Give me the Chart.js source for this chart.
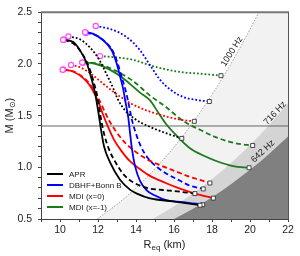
<!DOCTYPE html>
<html>
<head>
<meta charset="utf-8">
<script src="https://cdn.jsdelivr.net/npm/chart.js@4.4.0/dist/chart.umd.min.js"></script>
<style>
html, body { margin: 0; padding: 0; background: #fff; }
#chart { display: block; }
</style>
</head>
<body>
<canvas id="chart" width="300" height="256"></canvas>
<script>
// Mass - equatorial radius sequences, [R_eq (km), M (Msun)]
// first point = maximum mass, last point = mass-shedding limit
const apr642 = [[10.17,2.235],[10.70,2.213],[11.05,2.133],[11.41,2.007],[11.67,1.849],[11.84,1.723],[12.02,1.533],[12.16,1.363],[12.32,1.201],[12.63,1.050],[13.16,0.879],[13.68,0.784],[14.05,0.746],[14.74,0.699],[15.95,0.671],[17.37,0.633]];
const apr716 = [[10.21,2.235],[10.79,2.185],[11.16,2.100],[11.53,1.967],[11.79,1.815],[12.00,1.654],[12.16,1.466],[12.32,1.325],[12.58,1.173],[12.95,1.040],[13.42,0.917],[14.21,0.822],[14.74,0.794],[15.79,0.775],[17.10,0.746]];
const apr1000 = [[10.44,2.266],[11.05,2.239],[11.58,2.159],[12.05,2.045],[12.47,1.893],[12.79,1.770],[13.05,1.656],[13.42,1.552],[13.95,1.467],[14.74,1.391],[15.53,1.334],[16.41,1.280]];

const dbhf642 = [[11.32,2.308],[11.75,2.291],[12.28,2.228],[12.72,2.133],[12.98,2.007],[13.16,1.881],[13.33,1.754],[13.45,1.628],[13.59,1.486],[13.68,1.344],[13.79,1.173],[13.95,1.012],[14.21,0.870],[14.58,0.775],[15.00,0.727],[15.63,0.680],[16.47,0.664],[17.51,0.639]];
const dbhf716 = [[11.37,2.300],[11.84,2.282],[12.37,2.216],[12.79,2.121],[13.05,1.998],[13.26,1.865],[13.47,1.732],[13.63,1.600],[13.79,1.457],[14.00,1.325],[14.26,1.201],[14.63,1.088],[15.11,1.002],[15.63,0.936],[16.32,0.870],[16.84,0.822],[17.54,0.791]];
const dbhf1000 = [[11.88,2.367],[12.63,2.339],[13.51,2.260],[14.21,2.133],[14.74,1.988],[15.26,1.849],[15.79,1.754],[16.49,1.680],[17.19,1.652],[17.86,1.637]];

const mdi0_642 = [[10.14,1.944],[10.68,1.927],[11.21,1.865],[11.58,1.789],[11.84,1.704],[12.05,1.618],[12.26,1.514],[12.53,1.391],[12.84,1.268],[13.21,1.164],[13.68,1.059],[14.21,0.983],[14.74,0.917],[15.53,0.851],[16.32,0.794],[17.11,0.746],[18.07,0.702]];
const mdi0_716 = [[10.18,1.946],[10.79,1.922],[11.32,1.855],[11.74,1.761],[12.05,1.656],[12.32,1.552],[12.63,1.438],[13.00,1.334],[13.42,1.239],[13.95,1.154],[14.58,1.078],[15.26,1.021],[16.05,0.964],[16.84,0.908],[17.37,0.879],[17.89,0.848]];
const mdi0_1000 = [[10.58,1.991],[11.05,1.969],[11.58,1.912],[12.11,1.834],[12.63,1.756],[13.16,1.685],[13.68,1.623],[14.21,1.576],[14.74,1.538],[15.53,1.495],[16.32,1.462],[17.07,1.445]];

const mdi1_642 = [[11.17,2.014],[11.74,2.007],[12.46,1.960],[13.16,1.884],[13.68,1.808],[14.21,1.723],[14.74,1.647],[15.16,1.533],[15.58,1.419],[16.14,1.306],[16.84,1.185],[17.63,1.107],[18.26,1.059],[19.11,1.012],[19.95,0.996]];
const mdi1_716 = [[11.21,2.012],[11.74,2.010],[12.79,1.946],[13.84,1.836],[14.74,1.694],[15.53,1.590],[16.47,1.450],[17.37,1.363],[18.26,1.287],[19.32,1.230],[20.14,1.211]];
const mdi1_1000 = [[12.11,2.076],[12.98,2.064],[13.86,2.040],[14.74,1.988],[15.62,1.946],[16.49,1.919],[17.37,1.906],[18.47,1.887]];

// Kepler (mass-shedding) boundaries for the three spin frequencies
const kepler1000 = [[11.96,0.5],[13,0.642],[14,0.801],[15,0.986],[16,1.196],[17,1.435],[18,1.703],[19,2.003],[20,2.336],[21,2.704],[22,3.109]];
const kepler716 = [[14.87,0.5],[16,0.623],[17,0.747],[18,0.886],[19,1.043],[20,1.216],[21,1.408],[22,1.619]];
const kepler642 = [[16.0,0.5],[17,0.599],[18,0.711],[19,0.837],[20,0.976],[21,1.130],[22,1.299]];

const eosNames = ['APR', 'DBHF+Bonn B', 'MDI (x=0)', 'MDI (x=-1)'];
const freqLabels = ['1000 Hz', '716 Hz', '642 Hz'];
const canonicalMass = 1.4;
const xTickLabels = [10, 12, 14, 16, 18, 20, 22];
const yTickLabels = [0.5, 1.0, 1.5, 2.0, 2.5];

const eosColors = ['#000000', '#0000ff', '#ff0000', '#1b7a1b'];

const toPts = arr => arr.map(p => ({ x: p[0], y: p[1] }));

// one spin sequence: magenta circle at max mass, small open square at the Kepler end
function curve(data, color, dash) {
    const last = data.length - 1;
    return {
        data: toPts(data),
        borderColor: color,
        borderWidth: 1.8,
        borderDash: dash,
        fill: false,
        cubicInterpolationMode: 'monotone',
        pointStyle: c => c.dataIndex === 0 ? 'circle' : 'rect',
        pointRadius: c => c.dataIndex === 0 ? 2.6 : (c.dataIndex === last ? 2.8 : 0),
        pointBorderColor: c => c.dataIndex === 0 ? '#ff4dff' : '#333',
        pointBackgroundColor: '#fff',
        pointBorderWidth: c => c.dataIndex === 0 ? 1.2 : 0.9,
        order: 0
    };
}

function region(data, color, order) {
    return {
        data: toPts(data),
        borderColor: 'rgba(0,0,0,0)',
        borderWidth: 0,
        backgroundColor: color,
        fill: 'start',
        pointRadius: 0,
        cubicInterpolationMode: 'monotone',
        order: order
    };
}

const SOLID = [], DASH = [5, 3], DOT = [1.8, 2];

const datasets = [
    curve(apr642, eosColors[0], SOLID),
    curve(apr716, eosColors[0], DASH),
    curve(apr1000, eosColors[0], DOT),
    curve(dbhf642, eosColors[1], SOLID),
    curve(dbhf716, eosColors[1], DASH),
    curve(dbhf1000, eosColors[1], DOT),
    curve(mdi0_642, eosColors[2], SOLID),
    curve(mdi0_716, eosColors[2], DASH),
    curve(mdi0_1000, eosColors[2], DOT),
    curve(mdi1_642, eosColors[3], SOLID),
    curve(mdi1_716, eosColors[3], DASH),
    curve(mdi1_1000, eosColors[3], DOT),
    {
        data: [{ x: 9, y: canonicalMass }, { x: 22, y: canonicalMass }],
        borderColor: '#666',
        borderWidth: 1,
        pointRadius: 0,
        fill: false,
        order: 1
    },
    region(kepler642, '#808080', 2),
    region(kepler716, '#d4d4d4', 3),
    Object.assign(region(kepler1000, '#f2f2f2', 4), {
        borderColor: '#8a8a8a',
        borderWidth: 0.8,
        borderDash: [1.5, 1.5]
    })
];

// text, legend, frame and axis titles
const decor = {
    id: 'decor',
    afterDraw(chart) {
        const ctx = chart.ctx;
        const a = chart.chartArea;
        const x = chart.scales.x, y = chart.scales.y;
        ctx.save();

        // top and right frame
        ctx.strokeStyle = '#777';
        ctx.lineWidth = 2;
        ctx.beginPath();
        ctx.moveTo(a.left, a.top);
        ctx.lineTo(a.right + 1, a.top);
        ctx.stroke();
        ctx.strokeStyle = '#555';
        ctx.lineWidth = 1;
        ctx.beginPath();
        ctx.moveTo(a.right + 0.5, a.top);
        ctx.lineTo(a.right + 0.5, a.bottom);
        ctx.stroke();

        // frequency labels along the boundaries
        const spots = [[19.05, 2.12, -58], [21.32, 1.524, -47], [20.68, 1.154, -43]];
        ctx.fillStyle = '#222';
        ctx.font = '9px Arial';
        ctx.textAlign = 'center';
        ctx.textBaseline = 'middle';
        freqLabels.forEach((t, i) => {
            ctx.save();
            ctx.translate(x.getPixelForValue(spots[i][0]), y.getPixelForValue(spots[i][1]));
            ctx.rotate(spots[i][2] * Math.PI / 180);
            ctx.fillText(t, 0, 0);
            ctx.restore();
        });

        // legend
        ctx.textAlign = 'left';
        ctx.font = '8px Arial';
        eosNames.forEach((name, i) => {
            const ly = 174 + i * 11;
            ctx.strokeStyle = eosColors[i];
            ctx.lineWidth = 2;
            ctx.beginPath();
            ctx.moveTo(47, ly);
            ctx.lineTo(63, ly);
            ctx.stroke();
            ctx.fillStyle = '#222';
            ctx.fillText(name, 69, ly + 0.5);
        });

        // x title: R_eq (km)
        ctx.fillStyle = '#222';
        const big = '11px Arial', small = '8px Arial';
        ctx.font = big;
        const wR = ctx.measureText('R').width;
        const wK = ctx.measureText(' (km)').width;
        ctx.font = small;
        const wE = ctx.measureText('eq').width;
        let tx = (a.left + a.right) / 2 - (wR + wE + wK) / 2;
        const ty = 245;
        ctx.font = big;
        ctx.fillText('R', tx, ty);
        ctx.font = small;
        ctx.fillText('eq', tx + wR, ty + 3);
        ctx.font = big;
        ctx.fillText(' (km)', tx + wR + wE, ty);

        // y title: M (M_sun)
        ctx.save();
        ctx.translate(10, (a.top + a.bottom) / 2);
        ctx.rotate(-Math.PI / 2);
        ctx.font = big;
        const w1 = ctx.measureText('M (M').width;
        const w3 = ctx.measureText(')').width;
        ctx.font = small;
        const w2 = ctx.measureText('\u2299').width;
        let sx = -(w1 + w2 + w3) / 2;
        ctx.font = big;
        ctx.fillText('M (M', sx, 0);
        ctx.font = small;
        ctx.fillText('\u2299', sx + w1, 3);
        ctx.font = big;
        ctx.fillText(')', sx + w1 + w2, 0);
        ctx.restore();

        ctx.restore();
    }
};

Chart.defaults.font.family = 'Arial';
Chart.defaults.color = '#222';

new Chart(document.getElementById('chart'), {
    type: 'line',
    data: { datasets: datasets },
    options: {
        responsive: false,
        animation: false,
        devicePixelRatio: 1,
        layout: { padding: { top: 8, right: 12, left: 0, bottom: 0 } },
        plugins: {
            legend: { display: false },
            tooltip: { enabled: false }
        },
        scales: {
            x: {
                type: 'linear',
                min: 9,
                max: 22,
                ticks: {
                    stepSize: 1,
                    autoSkip: false,
                    maxRotation: 0,
                    padding: 2,
                    font: { size: 10.5 },
                    callback: v => xTickLabels.includes(v) ? String(v) : ''
                },
                grid: { drawOnChartArea: false, tickLength: 3, tickColor: '#444' },
                border: { color: '#444', width: 1 },
                afterFit: s => { s.height = 37; }
            },
            y: {
                type: 'linear',
                min: 0.5,
                max: 2.5,
                ticks: {
                    stepSize: 0.1,
                    autoSkip: false,
                    padding: 6,
                    font: { size: 10.5 },
                    callback: v => yTickLabels.includes(Math.round(v * 10) / 10) ? v.toFixed(1) : ''
                },
                grid: { drawOnChartArea: false, tickLength: 3, tickColor: '#444' },
                border: { color: '#444', width: 1 },
                afterFit: s => { s.width = 41; }
            }
        }
    },
    plugins: [decor]
});
</script>
</body>
</html>
